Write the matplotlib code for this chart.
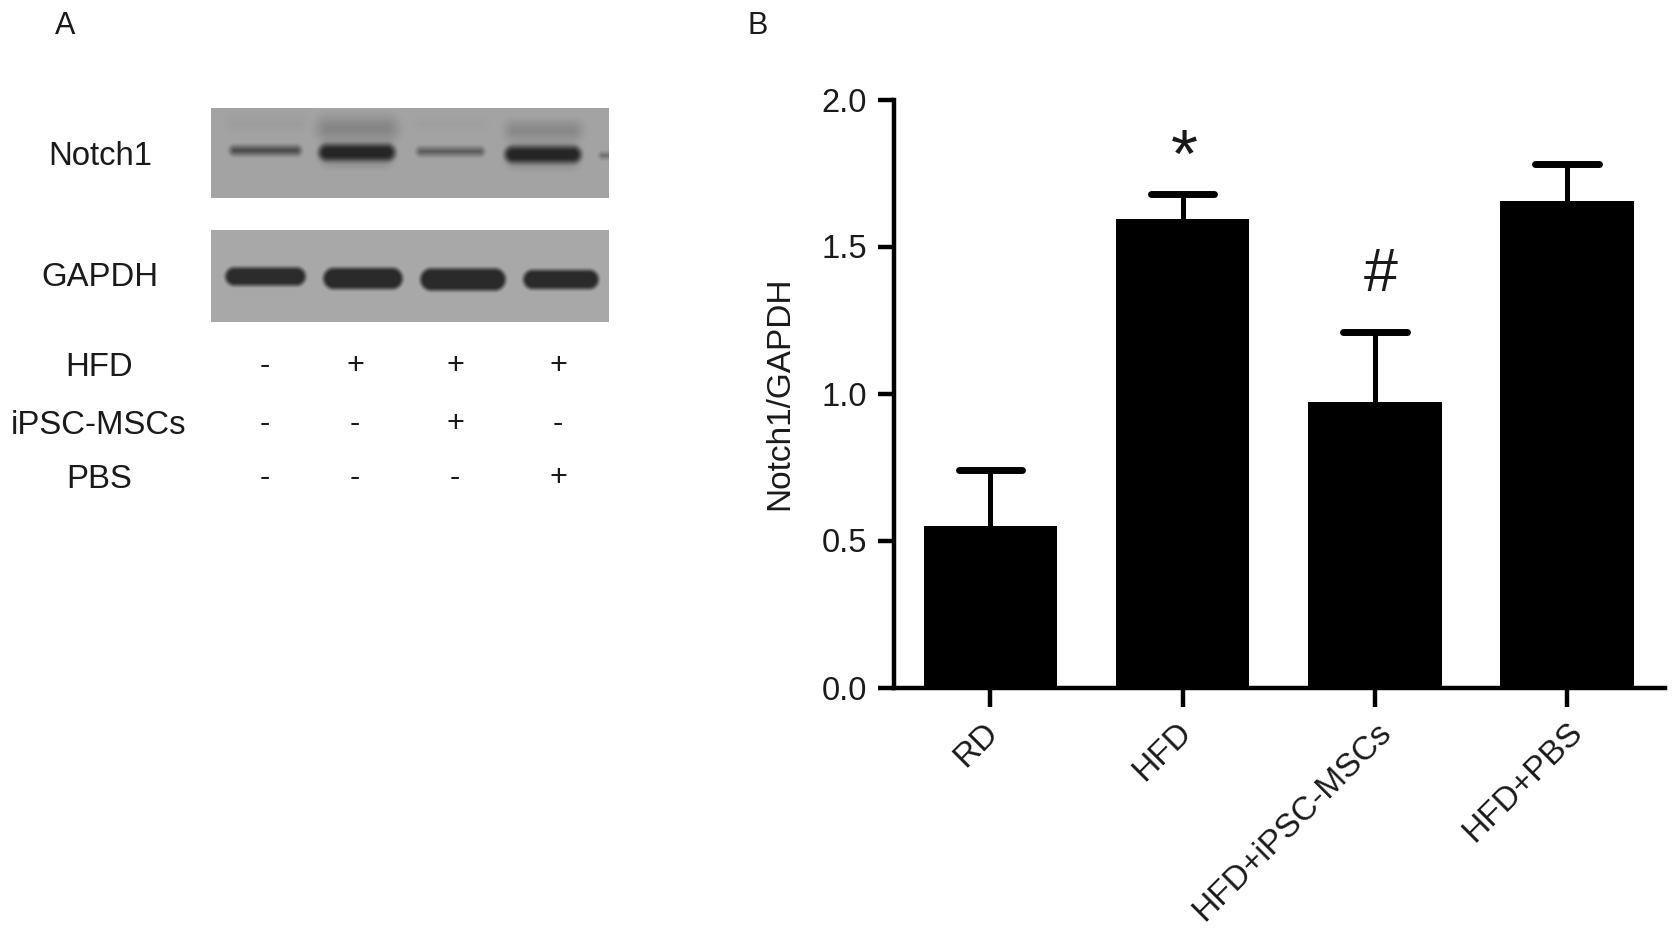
import numpy as np
import matplotlib
matplotlib.use('Agg')
import matplotlib.pyplot as plt
from matplotlib.transforms import ScaledTranslation

plt.rcParams['font.family'] = ['Liberation Sans', 'DejaVu Sans']

W, H = 1679, 934

groups = ['RD', 'HFD', 'HFD+iPSC-MSCs', 'HFD+PBS']
means = [0.55, 1.595, 0.97, 1.655]
upper = [0.74, 1.68, 1.21, 1.78]
marks = {1: '*', 2: '#'}
label_shift = [-8, -7, 1, 0]

row_names = ['HFD', 'iPSC-MSCs', 'PBS']
row_signs = [['-', '+', '+', '+'],
             ['-', '-', '+', '-'],
             ['-', '-', '-', '+']]
sign_x = [265, 355, 455, 558]
row_y = [365, 423, 477]

# blot bands: x0, x1, y centre, thickness, grey, blur (pixels of the full figure)
notch_bands = [(228, 304, 123, 10, 155, 10), (318, 396, 128, 20, 132, 12),
               (416, 486, 124, 8, 158, 9), (506, 580, 130, 16, 135, 10),
               (319, 394, 153, 24, 135, 8), (505, 580, 155, 24, 135, 8),
               (230, 300, 150, 8, 75, 5), (319, 394, 152, 15, 38, 5),
               (417, 483, 151, 7, 90, 5), (505, 580, 154, 15, 38, 5),
               (600, 612, 155, 4, 100, 5)]
gapdh_bands = [(225, 305, 276, 18, 45, 3.5), (323, 402, 278, 21, 42, 3.5),
               (420, 505, 279, 22, 42, 3.5), (523, 598, 279, 19, 42, 3.5)]


def blot(box, bg, bands):
    x0, x1, y0, y1 = box
    xx, yy = np.meshgrid(np.arange(x0, x1), np.arange(y0, y1))
    img = np.full(xx.shape, float(bg))
    for bx0, bx1, yc, th, grey, blur in bands:
        xc = (bx0 + bx1) / 2
        hw = (bx1 - bx0) / 2
        d = np.hypot(np.maximum(np.abs(xx - xc) - hw + th / 2, 0), yy - yc)
        a = np.clip((th / 2 + blur - d) / (2 * blur), 0, 1)
        a = a * a * (3 - 2 * a)
        img = img * (1 - a) + grey * a
    ax = fig.add_axes([x0 / W, 1 - y1 / H, (x1 - x0) / W, (y1 - y0) / H])
    ax.imshow(img, cmap='gray', vmin=0, vmax=255, aspect='auto', interpolation='bilinear')
    ax.axis('off')


def ftext(x, y, s, size=23.7, **kw):
    fig.text(x / W, 1 - y / H, s, fontsize=size, ha='center', va='center', color='#1a1a1a', **kw)


fig = plt.figure(figsize=(W / 100, H / 100), dpi=100)

# panel A
blot((211, 609, 108, 198), 163, notch_bands)
blot((211, 609, 230, 322), 168, gapdh_bands)
ftext(65, 26, 'A', 22)
ftext(758, 26, 'B', 22)
ftext(100, 157, 'Notch1')
ftext(100, 277, 'GAPDH')
for name, signs, y in zip(row_names, row_signs, row_y):
    ftext(99, y + 2, name)
    for sx, s in zip(sign_x, signs):
        ftext(sx, y + 1, s, 22)

# panel B
left, right, top, bottom = 894, 1665, 99.5, 687.5
ax = fig.add_axes([left / W, 1 - bottom / H, (right - left) / W, (bottom - top) / H])
x = np.arange(len(groups))
ax.bar(x, means, width=0.695, color='black')
ax.vlines(x, means, upper, color='black', lw=3.6)
ax.hlines(upper, x - 0.165, x + 0.165, color='black', lw=5, capstyle='round')
ax.set_xlim(-0.502, 3.51)
ax.set_ylim(0, 2)
ax.set_yticks([0, 0.5, 1, 1.5, 2], ['0.0', '0.5', '1.0', '1.5', '2.0'])
ax.set_xticks(x)
ax.set_xticklabels(groups, rotation=45, ha='right', rotation_mode='anchor')
ax.tick_params(axis='y', length=11.5, width=3.2, labelsize=23.5, pad=8, labelcolor='#1a1a1a')
ax.tick_params(axis='x', length=14, width=3.2, labelsize=24, pad=7, labelcolor='#1a1a1a')
for lab, dx in zip(ax.get_xticklabels(), label_shift):
    lab.set_transform(lab.get_transform() + ScaledTranslation(dx / 100, 0, fig.dpi_scale_trans))
for side in ['top', 'right']:
    ax.spines[side].set_visible(False)
for side in ['left', 'bottom']:
    ax.spines[side].set_linewidth(3.2)
ax.set_ylabel('Notch1/GAPDH', fontsize=24, labelpad=19, color='#1a1a1a')
for i, m in marks.items():
    ax.text(i + 0.03 if m == '#' else i + 0.01, upper[i] + (0.19 if m == '#' else 0.118), m,
            fontsize=44 if m == '#' else 50, ha='center', va='center', color='#1a1a1a')

fig.savefig('out.png', dpi=100)
